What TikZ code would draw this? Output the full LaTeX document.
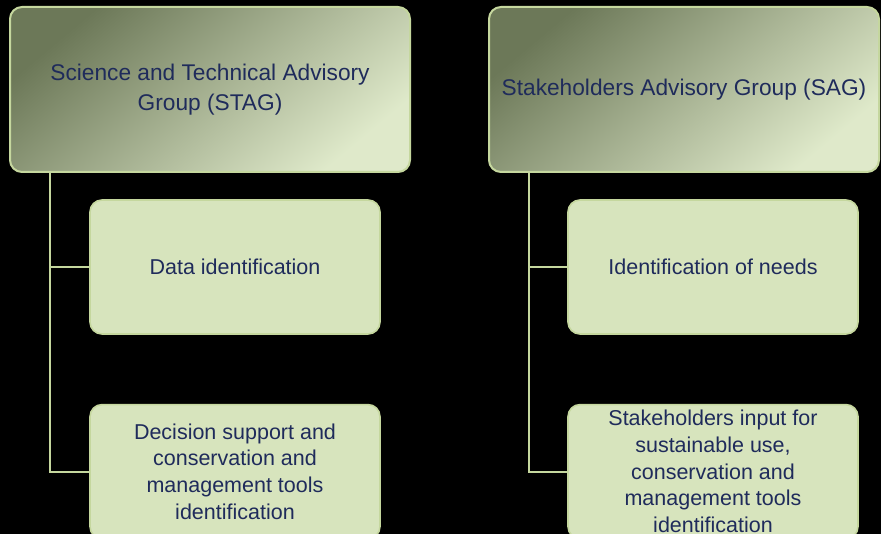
\documentclass[tikz,border=0pt]{standalone}
\usepackage{fontspec}
\setmainfont{Liberation Sans}
\usetikzlibrary{positioning}
\definecolor{ink}{HTML}{1F2B5B}
\definecolor{leaf}{HTML}{D7E4BD}
\definecolor{rim}{HTML}{C5D79E}
\definecolor{olive}{HTML}{6C7858}
\tikzset{
  groupbox/.style={draw=rim, line width=2pt, rounded corners=12pt, top color=olive, bottom color=leaf!80!white, shading angle=40, text=ink, align=center, font=\fontsize{22.7}{30}\selectfont},
  taskbox/.style={draw=rim, line width=1.6pt, fill=leaf, rounded corners=12pt, minimum width=290pt, minimum height=134pt, text=ink, align=center, font=\fontsize{21.5}{26.7}\selectfont},
  link/.style={draw=rim, line width=2pt},
}

\begin{document}
\begin{tikzpicture}[x=1pt,y=-1pt]
  \fill[black] (0,0) rectangle (881,534);
  \clip (0,0) rectangle (881,534);

  % group heads
  \node[groupbox, minimum width=400pt, minimum height=165pt] (stag) at (210,89.5)
    {Science and Technical Advisory\\Group (STAG)};
  \node[groupbox, minimum width=390pt, minimum height=165pt] (sag) at (684,89.5)
    {Stakeholders Advisory Group (SAG)};

  % tasks
  \node[taskbox] (data) at (235,267) {Data identification};
  \node[taskbox, below=69pt of data] (tools)
    {Decision support and\\conservation and\\management tools\\identification};
  \node[taskbox] (needs) at (713,267) {Identification of needs};
  \node[taskbox, below=69pt of needs] (input)
    {Stakeholders input for\\sustainable use,\\conservation and\\management tools\\identification};

  \coordinate (stagroot) at ([xshift=41pt]stag.south west);
  \coordinate (sagroot) at ([xshift=41pt]sag.south west);
  \draw[link] (stagroot) |- (data.west);
  \draw[link] (stagroot) |- (tools.west);
  \draw[link] (sagroot) |- (needs.west);
  \draw[link] (sagroot) |- (input.west);
\end{tikzpicture}
\end{document}
